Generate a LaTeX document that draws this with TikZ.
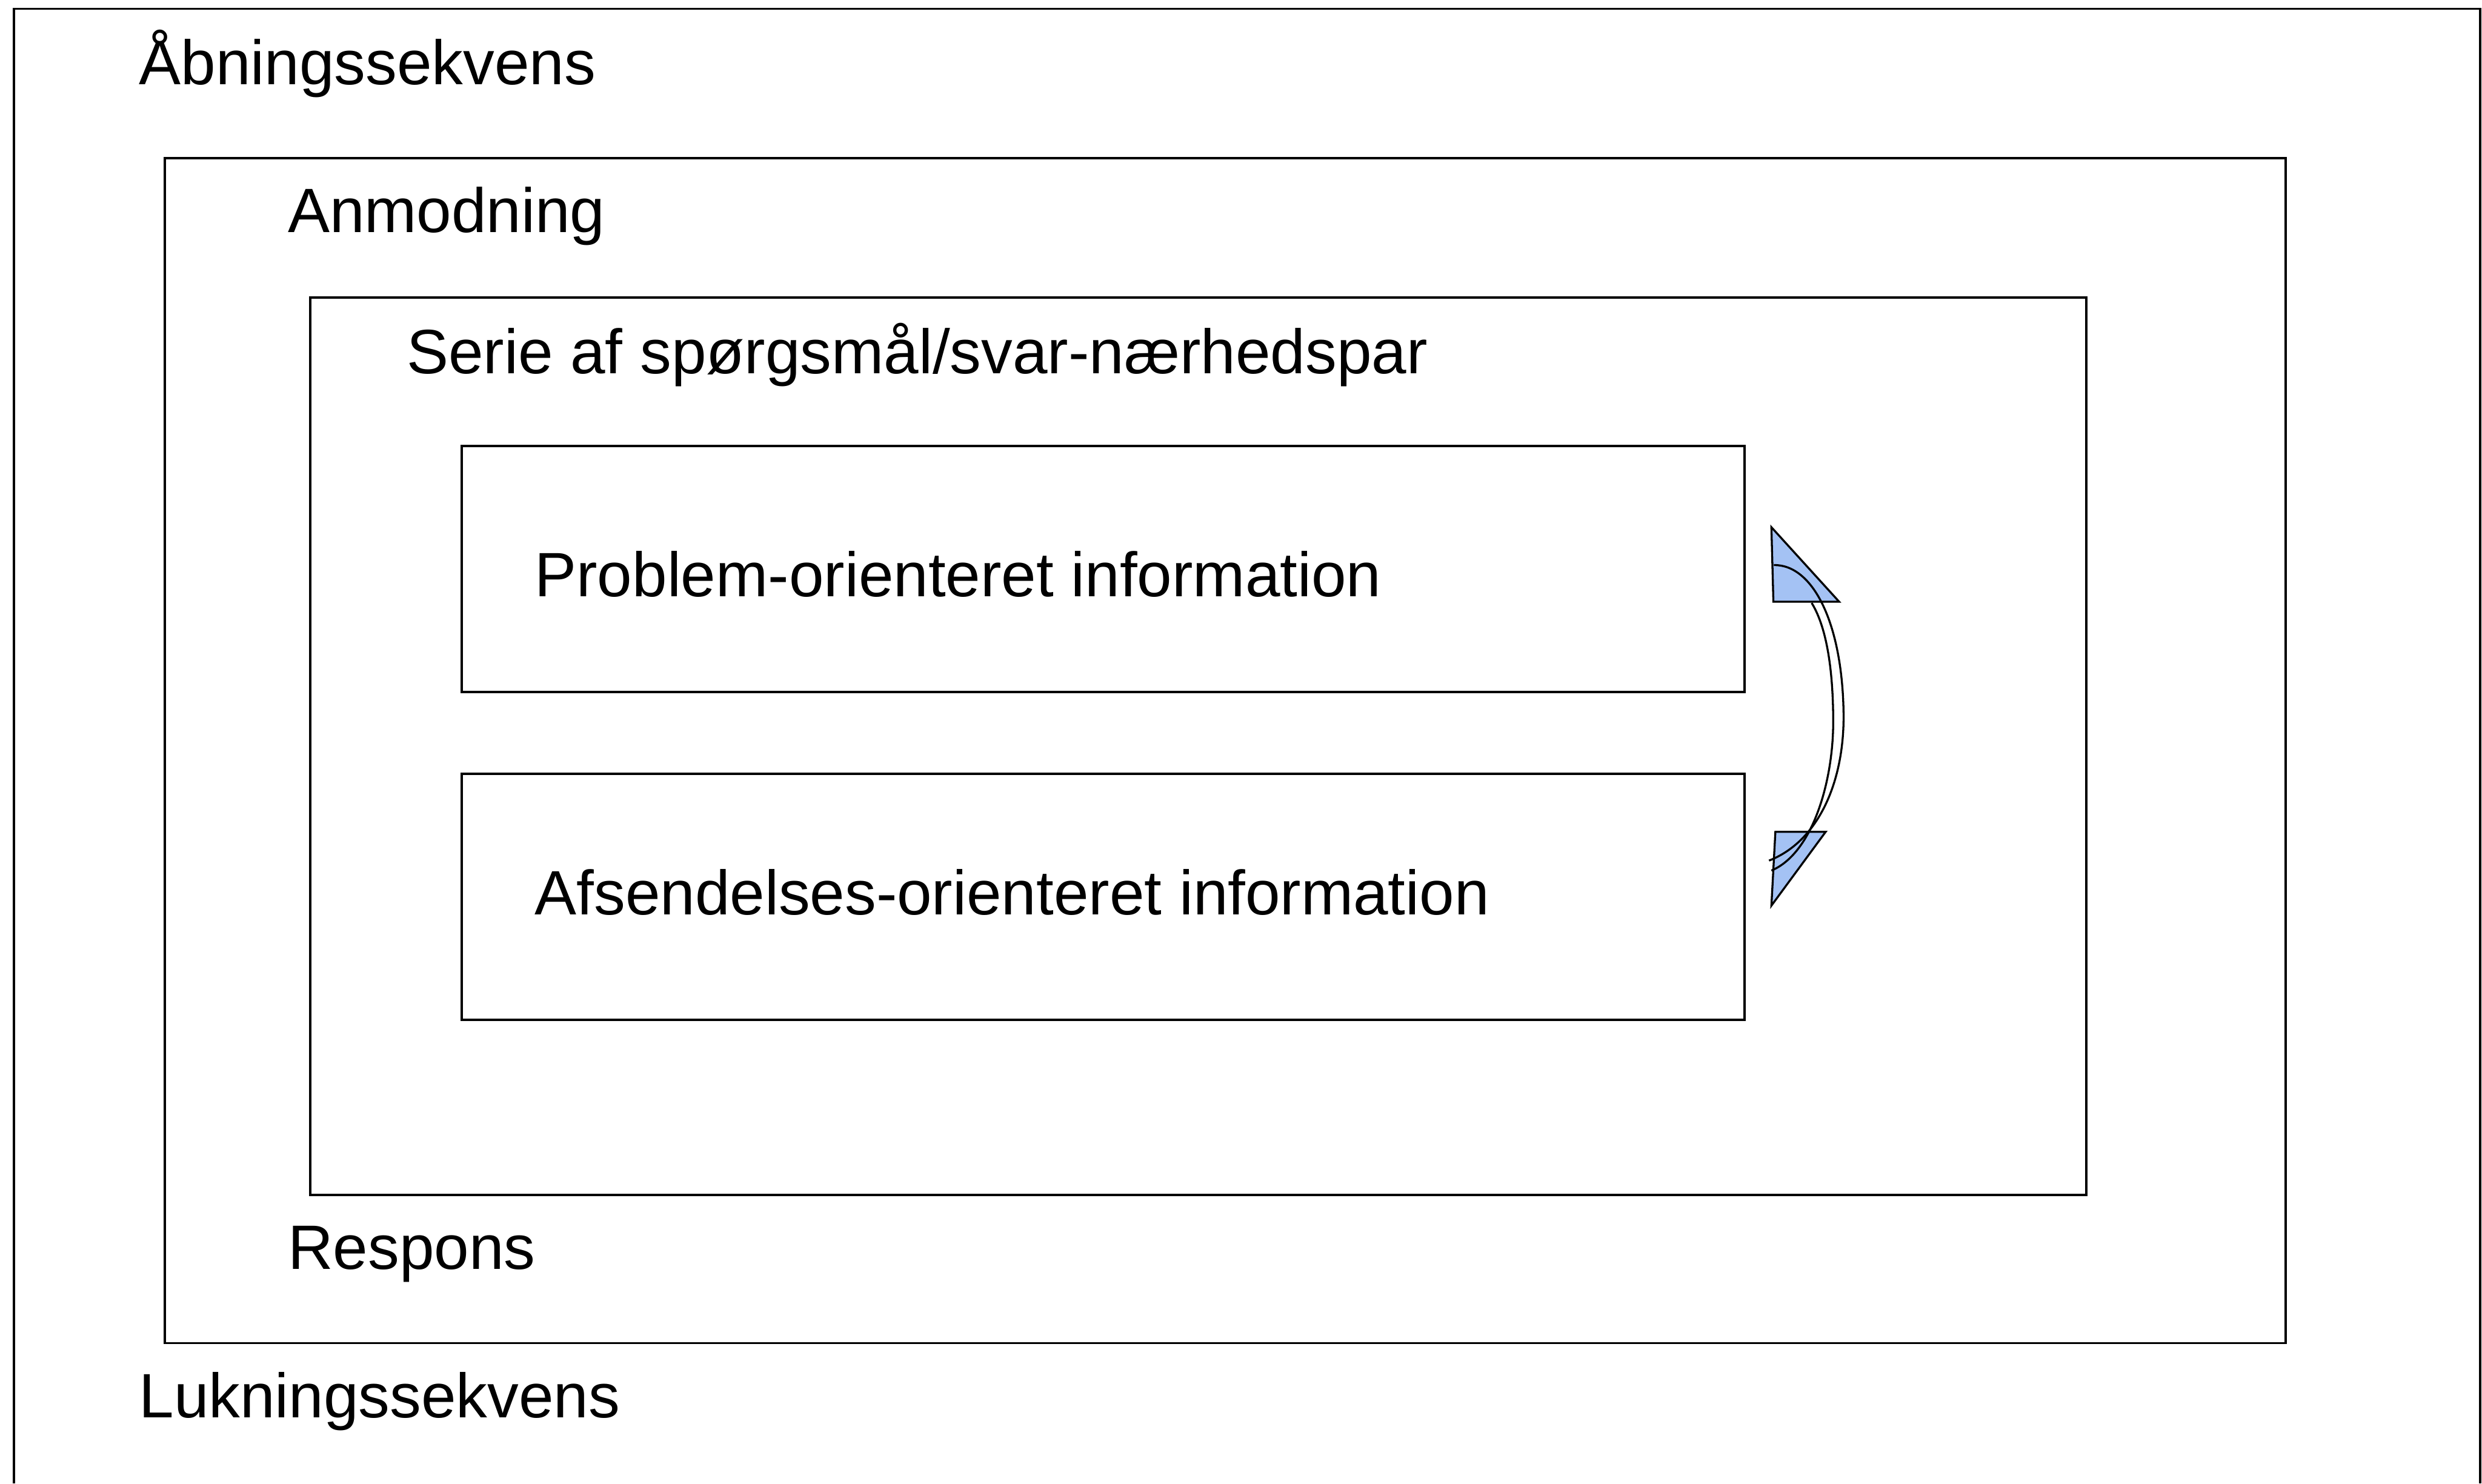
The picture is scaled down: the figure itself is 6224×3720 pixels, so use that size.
\documentclass[tikz,border=0pt]{standalone}
\usepackage{fontspec}
\setmainfont{Liberation Sans}
\definecolor{arrowblue}{HTML}{A4C2F4}
\begin{document}
\begin{tikzpicture}[x=0.01cm,y=-0.01cm,
  frame/.style={draw=black,line width=0.06cm},
  label/.style={anchor=base west,inner sep=0pt,outer sep=0pt,font=\fontsize{44.7}{54}\selectfont},
  arrowpart/.style={draw=black,line width=0.05cm,fill=arrowblue,line join=miter},
  arrowline/.style={draw=black,line width=0.05cm}]
\useasboundingbox (0,0) rectangle (6224,3720);
% outer frame (bottom edge lies beyond the picture)
\draw[frame] (35,3720) -- (35,22) -- (6219,22) -- (6219,3720);
% nested boxes
\draw[frame] (413,397) rectangle (5731,3368);
\draw[frame] (778,746) rectangle (5231,2997);
\node[frame,minimum width=3217*0.01cm,minimum height=617*0.01cm,inner sep=0pt,anchor=north west] (prob) at (1155,1115) {};
\node[frame,minimum width=3217*0.01cm,minimum height=617*0.01cm,inner sep=0pt,anchor=north west] (afs) at (1155,1937) {};
% labels
\node[label] (aabn) at (349,212) {Åbningssekvens};
\node[label] (anm) at (722,583) {Anmodning};
\node[label] (serie) at (1020,937) {Serie af spørgsmål/svar-nærhedspar};
\node[label] (probt) at (1341,1496) {Problem-orienteret information};
\node[label] (afst) at (1341,2294) {Afsendelses-orienteret information};
\node[label] (resp) at (722,3183) {Respons};
\node[label] (luk) at (349,3555) {Lukningssekvens};
% curved arrow between the two inner boxes
\path[arrowpart] (4442,1322) -- (4447,1509) -- (4612,1509) -- cycle;
\path[arrowpart] (4452,2086) -- (4578,2086) -- (4442,2271) -- cycle;
\draw[arrowline] (4448,1417) .. controls (4545,1415) and (4620,1560) .. (4623,1790)
  .. controls (4625,1960) and (4560,2110) .. (4436,2158);
\draw[arrowline] (4543,1512) .. controls (4585,1580) and (4597,1700) .. (4597,1810)
  .. controls (4597,1960) and (4545,2140) .. (4442,2183);
\end{tikzpicture}
\end{document}
